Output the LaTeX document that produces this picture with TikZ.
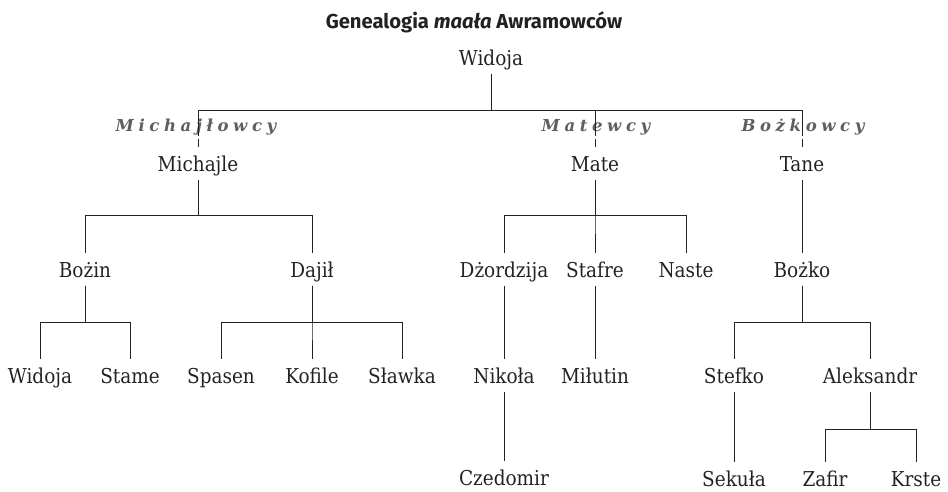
\documentclass[tikz,border=0pt]{standalone}
\usepackage{fontspec}
\setmainfont{DejaVu Serif Condensed}
\newfontfamily\titlefont{Fira Sans}
\newfontfamily\grpfont[LetterSpace=28]{DejaVu Serif Bold Italic}
\definecolor{ink}{HTML}{222222}
\definecolor{grp}{HTML}{5F5F5F}
\begin{document}
\begin{tikzpicture}[x=1pt,y=-1pt,
  person/.style={font=\fontsize{20.5}{24}\selectfont, text=ink, anchor=base, inner xsep=2pt, inner ysep=0pt, text height=24pt, text depth=8.5pt},
  grplabel/.style={font=\grpfont\fontsize{16.5}{19}\selectfont, text=grp, anchor=base, inner xsep=0pt, inner ysep=0pt, text height=20pt, text depth=5pt},
  link/.style={draw=ink, line width=0.8pt}]
\useasboundingbox (0,0) rectangle (948,491);
\node[font=\titlefont\fontsize{20.2}{23}\selectfont\bfseries, text=ink, anchor=base] (title) at (474,28) {Genealogia \textit{maała} Awramowców};
% generation 1
\node[person] (w0) at (491,65) {Widoja};
% group labels
\node[grplabel] (gMi) at (196,131) {Michajłowcy};
\node[grplabel] (gMa) at (596,131) {Matewcy};
\node[grplabel] (gBo) at (803,131) {Bożkowcy};
% generation 2
\node[person] (mi) at (198,171) {Michajle};
\node[person] (ma) at (595,171) {Mate};
\node[person] (ta) at (802,171) {Tane};
% generation 3
\node[person] (bz) at (85,277) {Bożin};
\node[person] (da) at (312,277) {Dajił};
\node[person] (dz) at (504,277) {Dżordzija};
\node[person] (st) at (595,277) {Stafre};
\node[person] (na) at (686,277) {Naste};
\node[person] (bk) at (802,277) {Bożko};
% generation 4
\node[person] (wi) at (40,383) {Widoja};
\node[person] (sm) at (130,383) {Stame};
\node[person] (sp) at (221,383) {Spasen};
\node[person] (ko) at (312,383) {Kofile};
\node[person] (sl) at (402,383) {Sławka};
\node[person] (ni) at (504,383) {Nikoła};
\node[person] (mt) at (595,383) {Miłutin};
\node[person] (sf) at (734,383) {Stefko};
\node[person] (al) at (870,383) {Aleksandr};
% generation 5
\node[person] (cz) at (504,485) {Czedomir};
\node[person] (se) at (734,486.5) {Sekuła};
\node[person] (za) at (825,486.5) {Zafir};
\node[person] (kr) at (916,486.5) {Krste};
% bar levels
\coordinate (L2) at (0,215);
\coordinate (L3) at (0,322);
\coordinate (L4) at (0,429);
% connectors: top
\foreach \c/\g in {mi/gMi, ma/gMa, ta/gBo}{
  \draw[link] (w0.south) |- (\c.north |- \g.north) -- (\c.north |- \g.south);
  \draw[link] ([yshift=-3pt]\c.north |- \g.south) -- (\c.north);
}
% Michajle
\foreach \c in {bz, da}{ \draw[link] (mi.south) |- (\c.north |- L2) -- (\c.north); }
% Mate
\foreach \c in {dz, st, na}{ \draw[link] (ma.south) |- (\c.north |- L2) -- (\c.north); }
% Tane
\draw[link] (ta.south) -- (bk.north);
% Bozin
\foreach \c in {wi, sm}{ \draw[link] (bz.south) |- (\c.north |- L3) -- (\c.north); }
% Dajil
\foreach \c in {sp, ko, sl}{ \draw[link] (da.south) |- (\c.north |- L3) -- (\c.north); }
% Dzordzija, Stafre
\draw[link] (dz.south) -- (ni.north);
\draw[link] (ni.south) -- (cz.north);
\draw[link] (st.south) -- (mt.north);
% Bozko
\foreach \c in {sf, al}{ \draw[link] (bk.south) |- (\c.north |- L3) -- (\c.north); }
\draw[link] (sf.south) -- (se.north);
\foreach \c in {za, kr}{ \draw[link] (al.south) |- (\c.north |- L4) -- (\c.north); }
\end{tikzpicture}
\end{document}
